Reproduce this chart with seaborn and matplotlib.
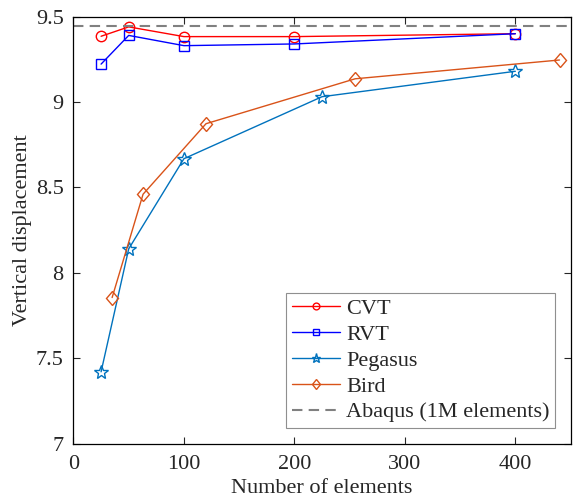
import matplotlib
matplotlib.use("Agg")
import matplotlib.pyplot as plt
import seaborn as sns
import pandas as pd
from matplotlib.markers import MarkerStyle
from matplotlib.transforms import Affine2D

# Data
cvt_x = [25, 50, 100, 200, 400]
cvt_y = [9.385, 9.44, 9.383, 9.383, 9.40]
rvt_x = [25, 50, 100, 200, 400]
rvt_y = [9.222, 9.39, 9.33, 9.34, 9.40]
peg_x = [25, 50, 100, 225, 400]
peg_y = [7.42, 8.14, 8.668, 9.031, 9.18]
bird_x = [35, 63, 120, 255, 440]
bird_y = [7.855, 8.46, 8.873, 9.136, 9.246]
abaqus_y = 9.445

series_names = ["CVT", "RVT", "Pegasus", "Bird"]
xticks = [0, 100, 200, 300, 400]
yticks = [7, 7.5, 8, 8.5, 9, 9.5]
ytick_labels = ["7", "7.5", "8", "8.5", "9", "9.5"]

sns.set_style("ticks")
plt.rcParams['font.family'] = ['Liberation Serif', 'DejaVu Serif']

fig = plt.figure(figsize=(5.74, 5.04), dpi=100)
ax = fig.add_axes([0.128, 0.12, 0.866, 0.847])

styles = {
    "CVT": dict(color=(1, 0, 0), marker='o', ms=7.5),
    "RVT": dict(color=(0, 0, 1), marker='s', ms=6.5),
    "Pegasus": dict(color='#0072BD', marker='*', ms=10),
    "Bird": dict(color='#D95319',
                 marker=MarkerStyle('D', transform=Affine2D().scale(0.8, 1.0)),
                 ms=7.5),
}
data = {"CVT": (cvt_x, cvt_y), "RVT": (rvt_x, rvt_y),
        "Pegasus": (peg_x, peg_y), "Bird": (bird_x, bird_y)}

for name in series_names:
    xs, ys = data[name]
    df = pd.DataFrame({"x": xs, "y": ys})
    st = styles[name]
    sns.lineplot(data=df, x="x", y="y", ax=ax, color=st['color'], marker=st['marker'],
                 markersize=st['ms'], markerfacecolor='none',
                 markeredgecolor=st['color'], markeredgewidth=1.0,
                 linewidth=1.0, label=name, estimator=None, sort=False)

ax.axhline(abaqus_y, color=(0.5, 0.5, 0.5), linestyle=(0, (5, 3)),
           linewidth=1.5, label="Abaqus (1M elements)")

ax.set_xlim(0, 450)
ax.set_ylim(7, 9.5)
ax.set_xticks(xticks)
ax.set_yticks(yticks)
ax.set_yticklabels(ytick_labels)
ax.set_xlabel("Number of elements", fontsize=16, labelpad=4)
ax.set_ylabel("Vertical displacement", fontsize=16, labelpad=3)
ax.tick_params(direction='in', top=True, right=True, labelsize=16,
               length=5, width=0.8)
ax.tick_params(axis='x', pad=8)
ax.tick_params(axis='y', pad=7)
for s in ax.spines.values():
    s.set_visible(True)
    s.set_linewidth(0.9)
    s.set_color('black')

leg = ax.legend(loc='lower right', fontsize=16, frameon=True, fancybox=False,
                edgecolor=(0.45, 0.45, 0.45), handlelength=2.2, borderpad=0.25,
                labelspacing=0.24, handletextpad=0.25, borderaxespad=0.7,
                markerscale=0.65)
leg.get_frame().set_linewidth(0.8)

fig.savefig("out.png", dpi=100)
